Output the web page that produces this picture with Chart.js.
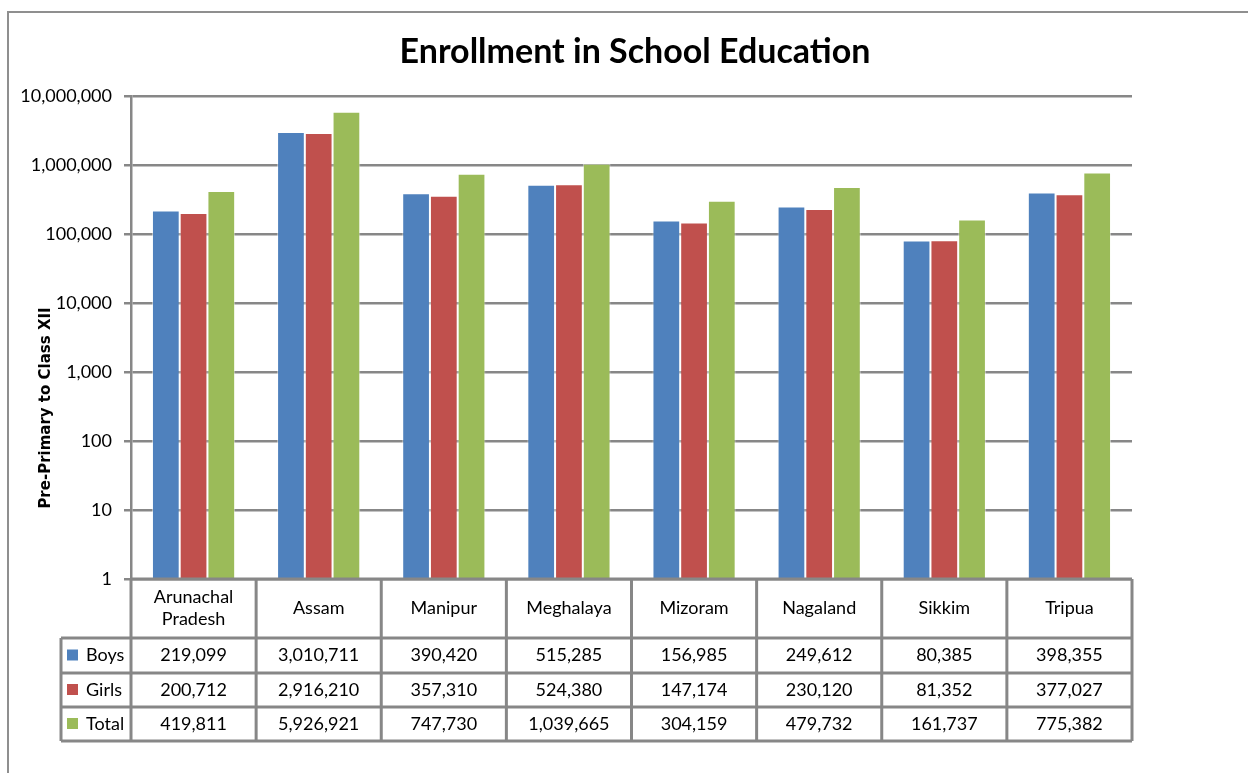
<!DOCTYPE html>
<html>
<head>
<meta charset="utf-8">
<script src="https://cdn.jsdelivr.net/npm/chart.js@4/dist/chart.umd.min.js"></script>
<style>
  html, body { margin: 0; padding: 0; background: #fff; }
  #wrap { width: 1248px; height: 773px; position: relative; }
</style>
</head>
<body>
<div id="wrap"><canvas id="enrollChart"></canvas></div>
<script>
// ── Data ────────────────────────────────────────────────
const states = ["Arunachal Pradesh", "Assam", "Manipur", "Meghalaya", "Mizoram", "Nagaland", "Sikkim", "Tripua"];
const boys   = [219099, 3010711, 390420, 515285, 156985, 249612, 80385, 398355];
const girls  = [200712, 2916210, 357310, 524380, 147174, 230120, 81352, 377027];
const total  = [419811, 5926921, 747730, 1039665, 304159, 479732, 161737, 775382];
const yTicks = [1, 10, 100, 1000, 10000, 100000, 1000000, 10000000];

const seriesNames  = ["Boys", "Girls", "Total"];
const seriesColors = ["#4F81BD", "#C0504D", "#9BBB59"];
const seriesData   = [boys, girls, total];

const FONT = "Lato, 'Open Sans', sans-serif";
const LINE = "#878787";

function fmt(n) { return n.toLocaleString("en-US"); }

// ── Title, data table, frame and y title ────────────────
const tablePlugin = {
  id: "dataTable",
  afterDraw(chart) {
    const ctx = chart.ctx;
    const xs  = chart.scales.x;
    const area = chart.chartArea;
    const n = states.length;
    const colW = (area.right - area.left) / n;
    const rowTops = [area.bottom, 638, 673, 707, 741];
    const legLeft = 61;

    ctx.save();

    // outer frame
    ctx.strokeStyle = "#8f8f8f";
    ctx.lineWidth = 2;
    ctx.beginPath();
    ctx.moveTo(8, 773); ctx.lineTo(8, 12); ctx.lineTo(1248, 12);
    ctx.stroke();

    // title
    ctx.fillStyle = "#000";
    ctx.textAlign = "center";
    ctx.textBaseline = "middle";
    ctx.font = "bold 34px " + FONT;
    ctx.fillText("Enrollment in School Education", 635, 52);

    // table lines
    ctx.strokeStyle = LINE;
    ctx.lineWidth = 3;
    ctx.beginPath();
    ctx.moveTo(area.left, rowTops[0]); ctx.lineTo(area.right, rowTops[0]);
    for (let r = 1; r < rowTops.length; r++) {
      ctx.moveTo(legLeft, rowTops[r]); ctx.lineTo(area.right, rowTops[r]);
    }
    for (let c = 0; c <= n; c++) {
      const x = area.left + c * colW;
      ctx.moveTo(x, rowTops[0]); ctx.lineTo(x, rowTops[4]);
    }
    ctx.moveTo(legLeft, rowTops[1]); ctx.lineTo(legLeft, rowTops[4]);
    ctx.stroke();

    ctx.font = "18px " + FONT;

    // category names
    states.forEach(function (s, i) {
      const cx = xs.getPixelForValue(i);
      const cy = (rowTops[0] + rowTops[1]) / 2;
      if (s === "Arunachal Pradesh") {
        ctx.fillText("Arunachal", cx, cy - 11);
        ctx.fillText("Pradesh", cx, cy + 11);
      } else {
        ctx.fillText(s, cx, cy);
      }
    });

    // values + legend keys
    seriesData.forEach(function (arr, r) {
      const cy = (rowTops[r + 1] + rowTops[r + 2]) / 2;
      ctx.textAlign = "center";
      arr.forEach(function (v, i) {
        ctx.fillText(fmt(v), xs.getPixelForValue(i), cy);
      });
      ctx.fillStyle = seriesColors[r];
      ctx.fillRect(67, cy - 6, 11, 11);
      ctx.fillStyle = "#000";
      ctx.textAlign = "left";
      ctx.fillText(seriesNames[r], 86, cy);
    });

    // y axis title
    ctx.translate(46, 408);
    ctx.rotate(-Math.PI / 2);
    ctx.textAlign = "center";
    ctx.font = "bold 15px 'DejaVu Sans', sans-serif";
    ctx.fillText("Pre-Primary to Class XII", 0, 0);

    ctx.restore();
  }
};

new Chart(document.getElementById("enrollChart"), {
  type: "bar",
  data: {
    labels: states,
    datasets: seriesNames.map(function (name, i) {
      return {
        label: name,
        data: seriesData[i],
        backgroundColor: seriesColors[i],
        borderColor: "rgba(255,255,255,0.5)",
        borderWidth: 1,
        categoryPercentage: 0.665,
        barPercentage: 1.0
      };
    })
  },
  options: {
    responsive: true,
    maintainAspectRatio: false,
    animation: false,
    layout: { padding: { left: 0, right: 116, top: 96, bottom: 0 } },
    plugins: {
      legend: { display: false },
      tooltip: { enabled: false },
      title: { display: false }
    },
    scales: {
      x: {
        grid: { display: false },
        border: { display: false },
        ticks: { display: false },
        afterFit: function (s) { s.height = 194; }
      },
      y: {
        type: "logarithmic",
        min: 1,
        max: 10000000,
        afterBuildTicks: function (s) {
          s.ticks = yTicks.map(function (v) { return { value: v }; });
        },
        afterFit: function (s) { s.width = 131; },
        grid: { color: LINE, lineWidth: 2.5, tickLength: 7, drawTicks: true },
        border: { display: true, color: LINE, width: 2.5 },
        ticks: {
          color: "#000",
          padding: 12,
          font: { family: FONT, size: 18 },
          callback: function (v) { return fmt(v); }
        }
      }
    }
  },
  plugins: [tablePlugin]
});
</script>
</body>
</html>
